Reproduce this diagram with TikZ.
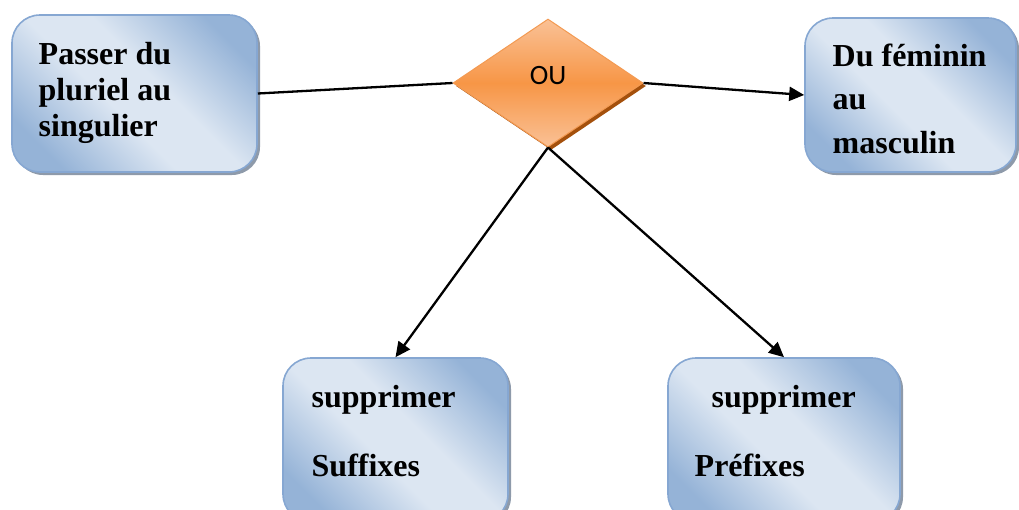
\documentclass[tikz,border=0pt]{standalone}
\usepackage{fontspec}
\setmainfont{Liberation Serif}
\newfontfamily\oufont{Carlito}
\usetikzlibrary{shapes.geometric,shadows,arrows.meta}

\definecolor{boxedge}{HTML}{86A7D2}
\definecolor{boxdeep}{HTML}{95B3D7}
\definecolor{boxpale}{HTML}{DCE6F2}
\definecolor{boxshade}{HTML}{8E9AAA}
\definecolor{orgedge}{HTML}{F39A52}
\definecolor{orgpale}{HTML}{FAC196}
\definecolor{orgmid}{HTML}{F79646}
\definecolor{orgshade}{HTML}{A4500C}

% diagonal glow: pale band across the middle, deeper blue towards two corners
\pgfdeclareverticalshading{boxglow}{100bp}{color(0bp)=(boxdeep); color(24bp)=(boxdeep);
  color(44bp)=(boxpale); color(56bp)=(boxpale); color(76bp)=(boxdeep); color(100bp)=(boxdeep)}

\begin{document}
\begin{tikzpicture}[x=1pt,y=-1pt,
  bluebox/.style={draw=boxedge, line width=1.6pt, rounded corners=28pt, inner sep=0pt,
    shading=boxglow, shading angle=-45,
    drop shadow={shadow xshift=3pt, shadow yshift=-3pt, fill=boxshade, opacity=1}},
  boxtext/.style={anchor=north west, inner sep=0pt, align=left},
  choice/.style={diamond, inner sep=0pt, draw=orgedge, line width=1pt,
    top color=orgpale, bottom color=orgpale, middle color=orgmid,
    drop shadow={shadow xshift=3pt, shadow yshift=-3pt, fill=orgshade, opacity=1}},
  link/.style={line width=2.3pt, draw=black},
  arrow/.style={link, -{Triangle[length=15pt,width=14pt]}}
]
\useasboundingbox (0,0) rectangle (1019,509);
\clip (0,0) rectangle (1019,509);

% rounded boxes
\node[bluebox, minimum width=245pt, minimum height=157pt] (box1) at (134.5,93.5) {};
\node[bluebox, minimum width=211pt, minimum height=154pt] (box2) at (910.5,95) {};
\node[bluebox, minimum width=225pt, minimum height=164pt] (box3) at (395.5,440) {};
\node[bluebox, minimum width=232pt, minimum height=164pt] (box4) at (784,440) {};

% box texts
\node[boxtext, font=\bfseries\fontsize{32}{36}\selectfont] (t1) at (38.5,42.5)
  {Passer du\\pluriel au\\singulier};
\node[boxtext, font=\bfseries\fontsize{32}{43.5}\selectfont] (t2) at (832.5,43.5)
  {Du féminin\\au\\masculin};
\node[boxtext, font=\bfseries\fontsize{32}{69}\selectfont] (t3) at (311.5,385.5)
  {supprimer\\Suffixes};
\node[boxtext, font=\bfseries\fontsize{32}{69}\selectfont] (t4) at (694.5,385.5)
  {\hspace*{17pt}supprimer\\Préfixes};

% decision diamond
\node[choice, minimum width=190pt, minimum height=128pt,
  label={[name=ou, font=\oufont\fontsize{28}{32}\selectfont, yshift=7pt]center:OU}] (dia) at (548,83) {};

% connectors
\draw[link] (box1.east) -- (dia.west);
\draw[arrow] (dia.east) -- (box2.west);
\draw[arrow] (dia.south) -- (box3.north);
\draw[arrow] (dia.south) -- (box4.north);
\end{tikzpicture}
\end{document}
